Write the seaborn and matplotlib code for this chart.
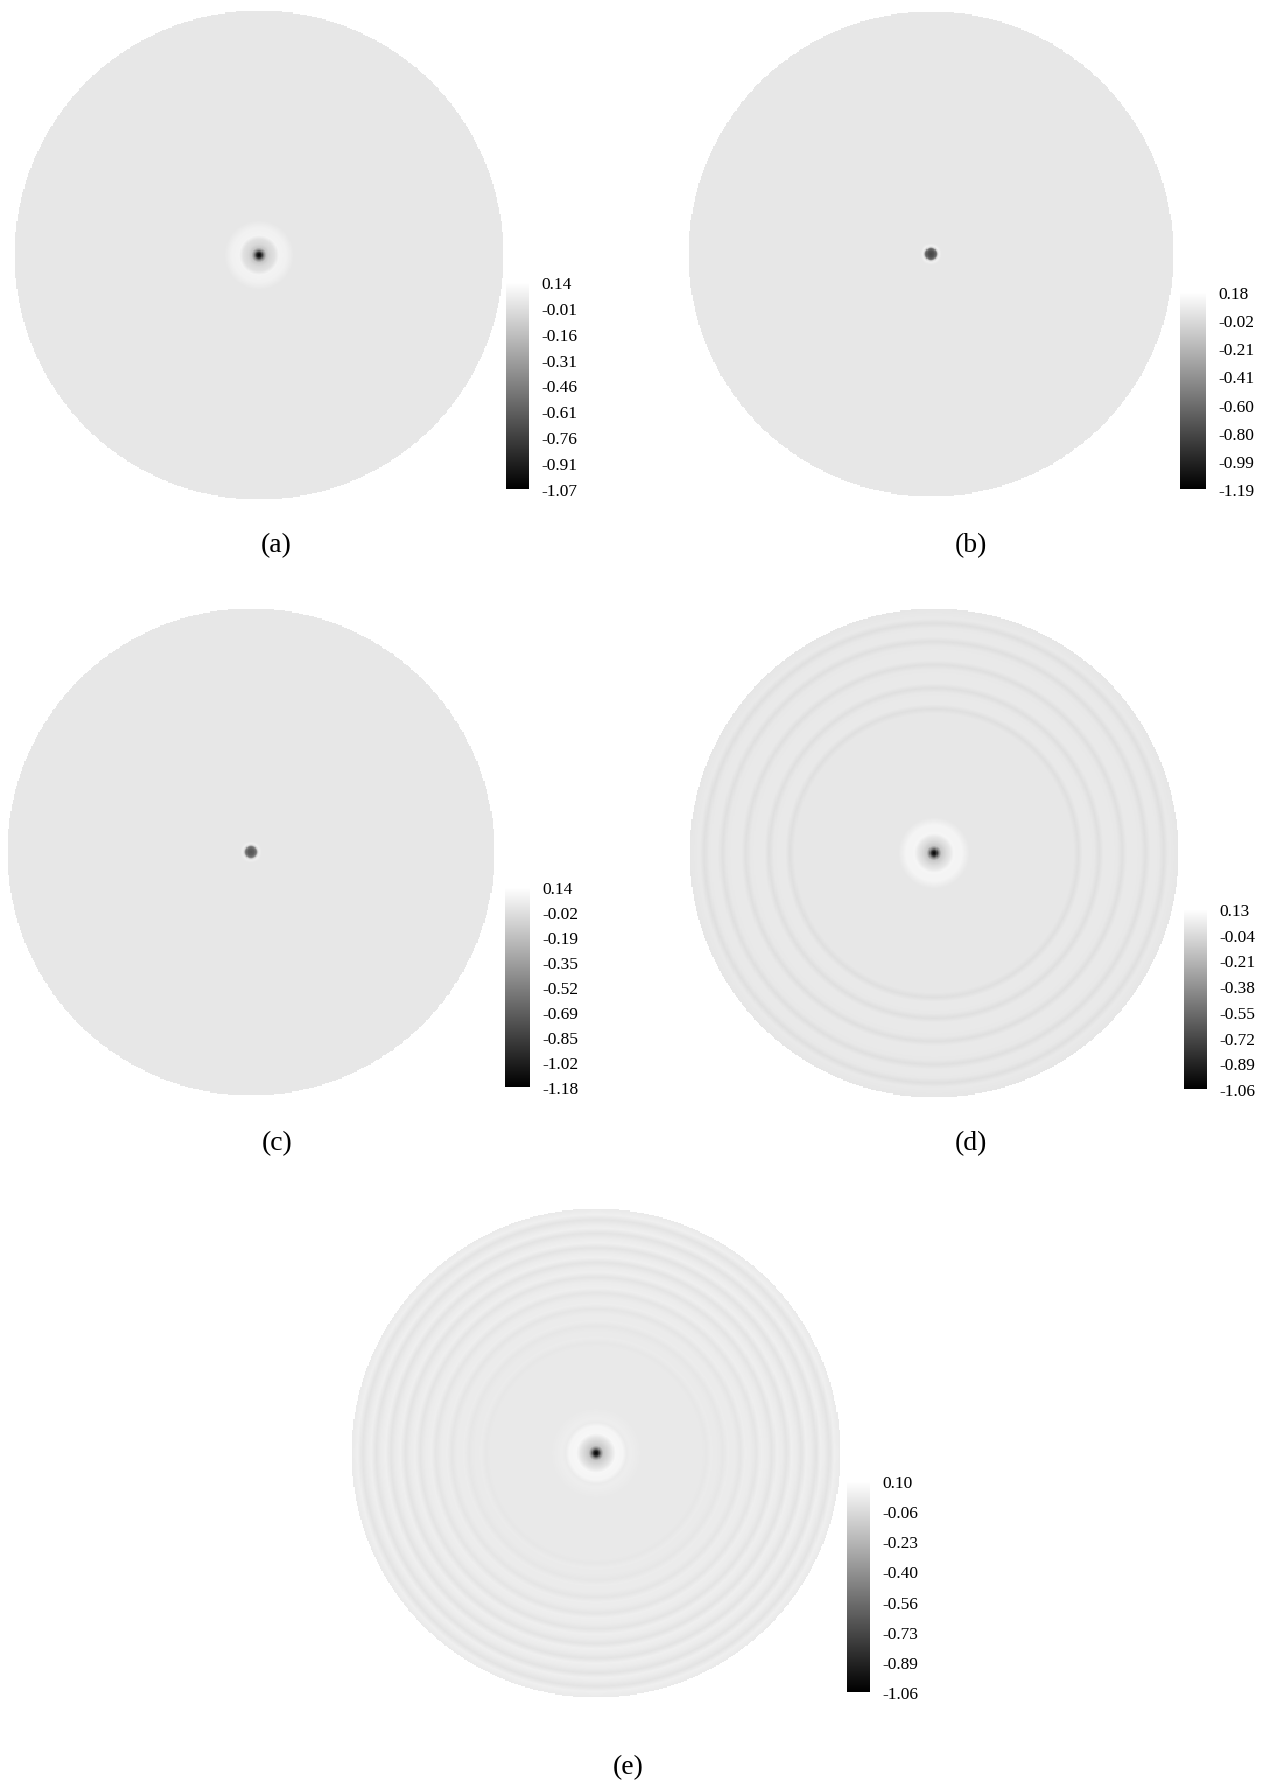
import numpy as np
import seaborn as sns
import matplotlib
matplotlib.use('Agg')
import matplotlib.pyplot as plt

# radial profiles (r normalised to the disk radius)
# panel (a)
r_a = [0, 0.01, 0.02, 0.03, 0.045, 0.065, 0.08, 0.11, 0.125, 0.14, 1.0]
v_a = [-1.07, -0.89, -0.40, -0.13, -0.05, -0.005, 0.08, 0.07, 0.05, 0.025, 0.025]
ticks_a = ['0.14', '-0.01', '-0.16', '-0.31', '-0.46', '-0.61', '-0.76', '-0.91', '-1.07']

# panel (b)
r_b = [0, 0.015, 0.022, 0.028, 0.034, 0.045, 1.0]
v_b = [-0.81, -0.74, -0.57, -0.02, 0.10, 0.05, 0.05]
ticks_b = ['0.18', '-0.02', '-0.21', '-0.41', '-0.60', '-0.80', '-0.99', '-1.19']

# panel (c)
r_c = [0, 0.015, 0.022, 0.028, 0.034, 0.045, 1.0]
v_c = [-0.74, -0.68, -0.52, -0.06, 0.05, 0.015, 0.015]
ticks_c = ['0.14', '-0.02', '-0.19', '-0.35', '-0.52', '-0.69', '-0.85', '-1.02', '-1.18']

# panel (d)
r_d = [0, 0.01, 0.02, 0.03, 0.05, 0.065, 0.08, 0.115, 0.13, 0.145,
       0.57, 0.59, 0.61, 0.655, 0.675, 0.695, 0.75, 0.77, 0.79,
       0.845, 0.865, 0.885, 0.92, 0.94, 0.96, 1.0]
v_d = [-1.06, -0.88, -0.405, -0.13, -0.037, 0.011, 0.08, 0.075, 0.045, 0.017,
       0.017, -0.02, 0.027, 0.022, -0.02, 0.027, 0.022, -0.02, 0.027,
       0.022, -0.02, 0.027, 0.022, -0.02, 0.027, 0.011]
ticks_d = ['0.13', '-0.04', '-0.21', '-0.38', '-0.55', '-0.72', '-0.89', '-1.06']

# panel (e)
r_e = [0, 0.01, 0.02, 0.03, 0.05, 0.065, 0.08, 0.11, 0.125, 0.14, 0.165, 0.18,
       0.43, 0.45, 0.47, 0.50, 0.52, 0.54, 0.57, 0.59, 0.61,
       0.635, 0.655, 0.675, 0.70, 0.72, 0.74, 0.76, 0.78, 0.80,
       0.82, 0.84, 0.86, 0.88, 0.90, 0.92, 0.935, 0.955, 0.975, 1.0]
v_e = [-1.06, -0.89, -0.42, -0.155, -0.074, -0.016, 0.06, 0.05, 0.007, 0.017, 0.007, 0.0,
       0.0, -0.012, 0.006, 0.0, -0.015, 0.01, 0.005, -0.02, 0.015,
       0.008, -0.022, 0.02, 0.008, -0.025, 0.022, 0.008, -0.027, 0.024,
       0.008, -0.028, 0.025, 0.008, -0.028, 0.025, 0.008, -0.028, 0.025, 0.0]
ticks_e = ['0.10', '-0.06', '-0.23', '-0.40', '-0.56', '-0.73', '-0.89', '-1.06']

labels = ['(a)', '(b)', '(c)', '(d)', '(e)']

W, H = 1271, 1783

def box(x0, y0, x1, y1):
    return [x0 / W, 1 - y1 / H, (x1 - x0) / W, (y1 - y0) / H]

# pixel layout: disk centre, radius, colorbar box, caption position
layout = [
    ((259, 256), 245, (506, 283, 529, 490), (276, 546)),
    ((931, 255), 243, (1180, 293, 1206, 490), (971, 546)),
    ((251, 853), 244, (505, 888, 530, 1088), (277, 1144)),
    ((934, 854), 245, (1184, 910, 1207, 1090), (971, 1144)),
    ((596, 1454), 245, (847, 1482, 870, 1693), (628, 1768)),
]

profiles = [(r_a, v_a, ticks_a), (r_b, v_b, ticks_b), (r_c, v_c, ticks_c),
            (r_d, v_d, ticks_d), (r_e, v_e, ticks_e)]

sns.set_theme(style='white')
plt.rcParams['font.family'] = ['Liberation Serif', 'DejaVu Serif']

fig = plt.figure(figsize=(W / 100, H / 100), dpi=100)
fig.patch.set_facecolor('white')

N = 420
xs = np.linspace(-1, 1, N)
gx, gy = np.meshgrid(xs, xs)
rr = np.hypot(gx, gy)

for (rad, vals, tks), ((cx, cy), R, cb, cap), lab in zip(profiles, layout, labels):
    ax = fig.add_axes(box(cx - R, cy - R, cx + R, cy + R))
    cax = fig.add_axes(box(*cb))
    field = np.interp(rr, rad, vals)
    vmax = float(tks[0])
    vmin = float(tks[-1])
    sns.heatmap(field, mask=rr > 1, cmap='gray', vmin=vmin, vmax=vmax,
                ax=ax, cbar_ax=cax, xticklabels=False, yticklabels=False,
                rasterized=True)
    ax.set_facecolor('white')
    cbar = ax.collections[0].colorbar
    cbar.set_ticks(np.linspace(vmax, vmin, len(tks)))
    cbar.set_ticklabels(tks)
    cbar.outline.set_linewidth(0)
    cax.tick_params(length=0, pad=9, labelsize=12.5, colors='black')
    fig.text(cap[0] / W, 1 - cap[1] / H, lab, ha='center', va='center',
             fontsize=20, color='black')

fig.savefig('out.png', dpi=100, facecolor='white')
